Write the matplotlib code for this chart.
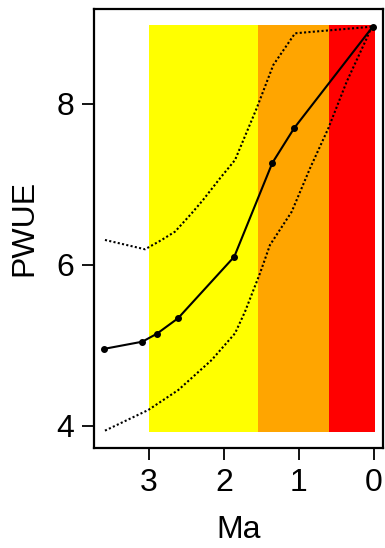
import numpy as np
import matplotlib
matplotlib.use('Agg')
import matplotlib.pyplot as plt

plt.rcParams['font.family'] = ['Liberation Sans', 'DejaVu Sans']

# shaded intervals (Ma)
band_start = [3.0, 1.547, 0.6]
band_end = [1.547, 0.6, -0.013]
band_colors = ['#ffff00', '#ffa500', '#ff0000']
band_bottom = 3.93
band_top = 8.98

# mean PWUE
ma = [3.604, 3.089, 2.893, 2.613, 1.863, 1.356, 1.063, 0.017]
pwue = [4.957, 5.047, 5.147, 5.338, 6.103, 7.267, 7.702, 8.96]

# upper envelope
up_ma = [3.587, 3.053, 2.831, 2.653, 2.431, 2.28, 2.053, 1.853, 1.564, 1.343, 1.053, 0.031]
up_val = [6.311, 6.195, 6.311, 6.414, 6.642, 6.807, 7.077, 7.304, 7.947, 8.484, 8.878, 8.96]

# lower envelope
lo_ma = [3.587, 3.009, 2.609, 2.164, 1.853, 1.72, 1.52, 1.387, 1.097, 0.853, 0.609, 0.364, 0.097, 0.031]
lo_val = [3.942, 4.199, 4.447, 4.820, 5.151, 5.420, 5.897, 6.248, 6.662, 7.201, 7.698, 8.277, 8.816, 8.96]

fig = plt.figure(figsize=(3.85, 5.48), dpi=100)
ax = fig.add_axes([0.2442, 0.183, 0.7506, 0.8006])

for s, e, c in zip(band_start, band_end, band_colors):
    ax.bar(e, band_top - band_bottom, width=s - e, bottom=band_bottom,
           align='edge', color=c, linewidth=0, zorder=1)

ax.plot(up_ma, up_val, color='k', lw=1.5, ls=(0, (1, 1.1)), zorder=3)
ax.plot(lo_ma, lo_val, color='k', lw=1.5, ls=(0, (1, 1.1)), zorder=3)
ax.plot(ma, pwue, color='k', lw=1.5, marker='o', ms=4, zorder=4)

ax.set_xlim(3.733, -0.12)
ax.set_ylim(3.73, 9.18)
ax.set_xticks([3, 2, 1, 0])
ax.set_yticks([4, 6, 8])
ax.tick_params(labelsize=23, length=8.5, width=1.3, pad=6)
for sp in ax.spines.values():
    sp.set_linewidth(1.6)
ax.set_xlabel('Ma', fontsize=23, labelpad=12)
ax.set_ylabel('PWUE', fontsize=23, labelpad=12)

fig.savefig('out.png', dpi=100)
